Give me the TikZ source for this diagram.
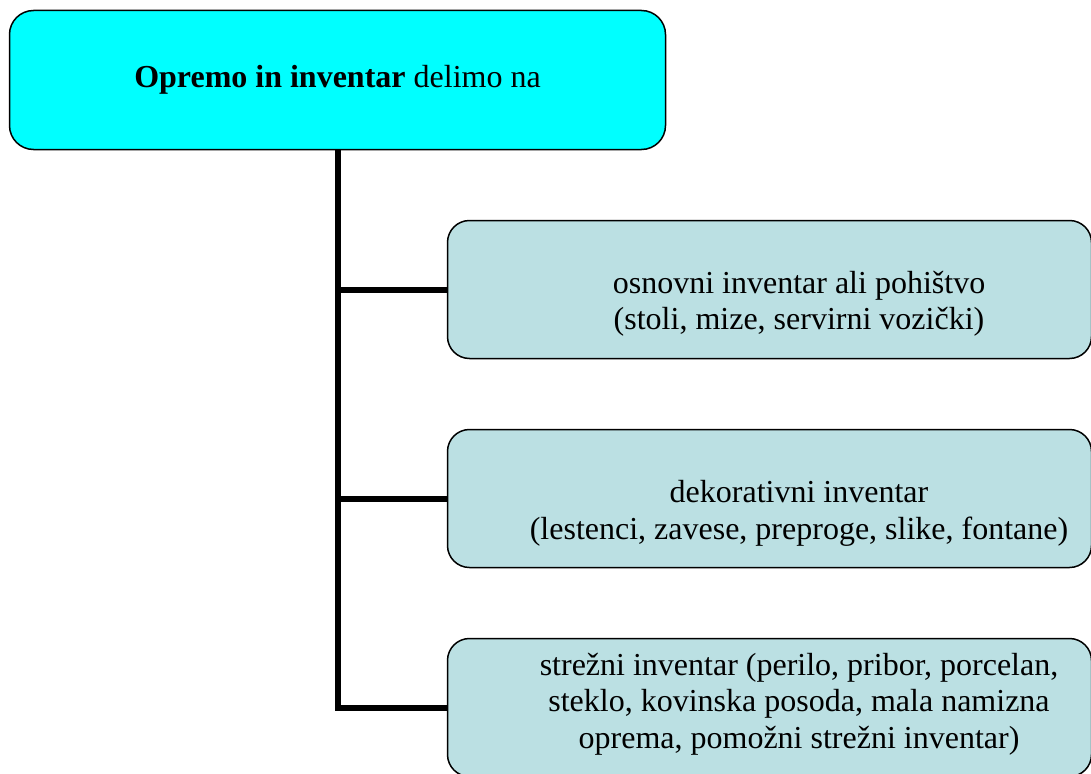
\documentclass[tikz,border=0pt]{standalone}
\usepackage{fontspec}
\setmainfont{Liberation Serif}
\usepackage{tikz}
\usetikzlibrary{positioning,calc}
\definecolor{headcyan}{RGB}{0,255,255}
\definecolor{itemblue}{RGB}{187,224,227}

\begin{document}
\begin{tikzpicture}[x=1pt, y=-1pt,
    headbox/.style={draw=black, line width=1.5pt, fill=headcyan, rounded corners=24pt,
        minimum width=656pt, minimum height=139pt, inner sep=0pt,
        font=\fontsize{32}{36.5}\selectfont},
    itembox/.style={draw=black, line width=1.5pt, fill=itemblue, rounded corners=22pt,
        minimum width=644pt, minimum height=138pt, inner sep=0pt},
    itemtext/.style={align=center, inner sep=0pt, font=\fontsize{32}{36.5}\selectfont},
    branch/.style={line width=6pt}]
    % Canvas
    \useasboundingbox (0,0) rectangle (1091,773);
    \clip (0,0) rectangle (1091,773);

    % Main box
    \node[headbox] (top) at (337.5,80) {\textbf{Opremo in inventar} delimo na};

    % Sub boxes
    \node[itembox] (c1) at (769.5,289.5) {};
    \node[itembox] (c2) at (769.5,498.5) {};
    \node[itembox] (c3) at (769.5,707.5) {};

    % Tree lines
    \draw[branch] (top.south) |- (c1.west);
    \draw[branch] (top.south) |- (c2.west);
    \draw[branch] (top.south) |- (c3.west);

    % Labels
    \node[itemtext] (t1) at ([xshift=29.5pt,yshift=-14.5pt]c1.center)
        {osnovni inventar ali pohištvo\\(stoli, mize, servirni vozički)};
    \node[itemtext] (t2) at ([xshift=29.5pt,yshift=-15pt]c2.center)
        {dekorativni inventar\\(lestenci, zavese, preproge, slike, fontane)};
    \node[itemtext] (t3) at ([xshift=29.5pt,yshift=3.5pt]c3.center)
        {strežni inventar (perilo, pribor, porcelan,\\steklo, kovinska posoda, mala namizna\\oprema, pomožni strežni inventar)};
\end{tikzpicture}
\end{document}
